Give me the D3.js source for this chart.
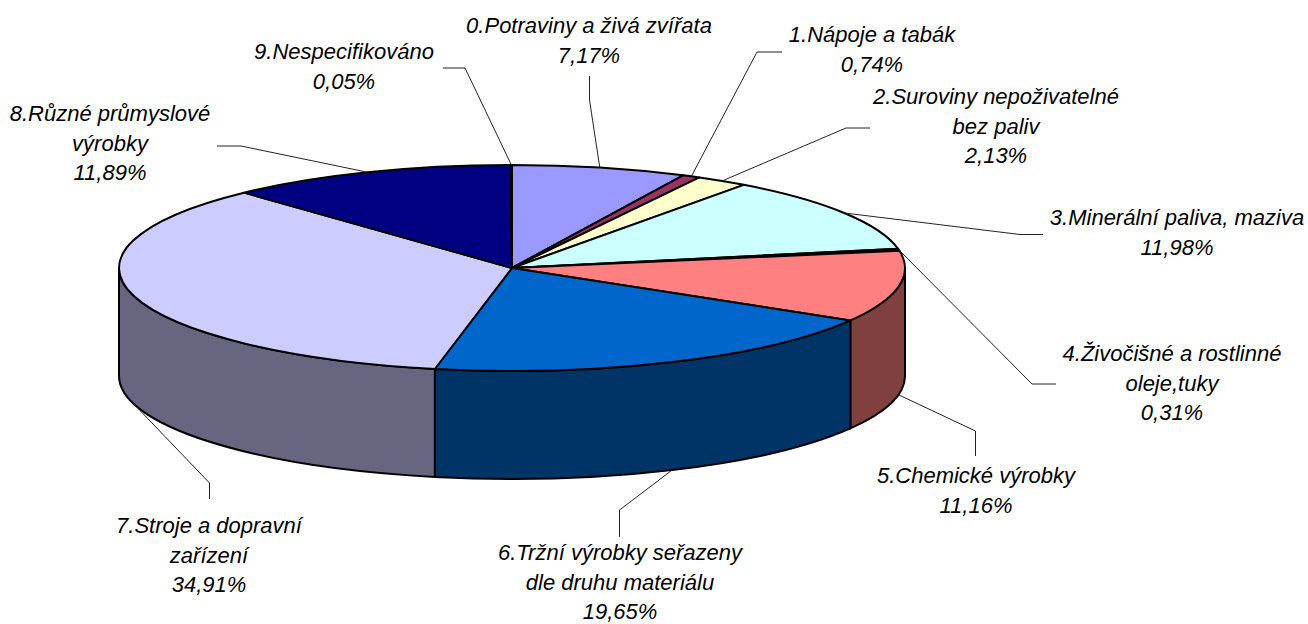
<!DOCTYPE html>
<html>
<head>
<meta charset="utf-8">
<script src="https://cdn.jsdelivr.net/npm/d3@7"></script>
<style>
    html, body { margin: 0; padding: 0; background: #fff; }
    svg { display: block; }
    .label { font-family: "Liberation Sans", Arial, sans-serif; font-style: italic; font-size: 22px; fill: #000; }
    .leader { fill: none; stroke: #222; stroke-width: 1; }
    .edge { stroke: #000; stroke-width: 2; stroke-linejoin: round; }
</style>
</head>
<body>
<div id="chart"></div>
<script>
const categoryLines = [
    ["0.Potraviny a živá zvířata"],
    ["1.Nápoje a tabák"],
    ["2.Suroviny nepoživatelné", "bez paliv"],
    ["3.Minerální paliva, maziva"],
    ["4.Živočišné a rostlinné", "oleje,tuky"],
    ["5.Chemické výrobky"],
    ["6.Tržní výrobky seřazeny", "dle druhu materiálu"],
    ["7.Stroje a dopravní", "zařízení"],
    ["8.Různé průmyslové", "výrobky"],
    ["9.Nespecifikováno"]
];
const shares = [7.17, 0.74, 2.13, 11.98, 0.31, 11.16, 19.65, 34.91, 11.89, 0.05];
const topColors = ["#9999ff", "#993366", "#ffffcc", "#ccffff", "#660066", "#ff8080", "#0066cc", "#ccccff", "#000080", "#ff00ff"];
const sideColors = ["#4c4c80", "#4c1933", "#808066", "#668080", "#330033", "#804040", "#003366", "#666680", "#000040", "#800080"];

// label placement: centre x, first baseline, elbow points of the leader line
const labelLayout = [
    {x: 589, y: 33, leader: [[589.5, 76], [589.5, 100]]},
    {x: 872, y: 42, leader: [[782, 52], [757, 52]]},
    {x: 996, y: 104, leader: [[870, 128], [846, 128]]},
    {x: 1177, y: 225, leader: [[1043, 234.5], [1020, 234.5]]},
    {x: 1172, y: 361, leader: [[1056, 384], [1032, 384]]},
    {x: 976, y: 483, leader: [[975.5, 456], [975.5, 431]]},
    {x: 620, y: 560, leader: [[619.5, 537], [619.5, 510]]},
    {x: 209, y: 533, leader: [[209.5, 499], [209.5, 483]]},
    {x: 110, y: 121, leader: [[217, 146], [241, 146]]},
    {x: 344, y: 59, leader: [[443, 68], [465, 68]]}
];

const width = 1308, height = 624;
const cx = 512, cy = 268, rx = 393, ry = 103, depth = 108;
const lineGap = 29.5;

const percent = d3.formatLocale({decimal: ",", thousands: " ", grouping: [3]}).format(".2f");

const svg = d3.select("#chart").append("svg")
    .attr("width", width)
    .attr("height", height);

const slices = d3.pie().sort(null).value(d => d)(shares);

// point on the rim, angle clockwise from the top of the pie
const rim = (a, drop = 0) => [cx + rx * Math.sin(a), cy - ry * Math.cos(a) + drop];

// front wall of the slice, only the part turned towards the viewer
function wallPath(d) {
    const a0 = Math.max(d.startAngle, Math.PI / 2);
    const a1 = Math.min(d.endAngle, Math.PI * 1.5);
    if (a1 <= a0) return null;
    const [x0, y0] = rim(a0);
    const [x1, y1] = rim(a1);
    return `M${x0},${y0}A${rx},${ry} 0 0 1 ${x1},${y1}` +
        `L${x1},${y1 + depth}A${rx},${ry} 0 0 0 ${x0},${y0 + depth}Z`;
}

svg.append("g").selectAll("path")
    .data(slices.filter(d => wallPath(d)))
    .join("path")
        .attr("class", "edge")
        .attr("d", wallPath)
        .attr("fill", d => sideColors[d.index]);

const arc = d3.arc().innerRadius(0).outerRadius(rx);

svg.append("g")
    .attr("transform", `translate(${cx},${cy}) scale(1,${ry / rx})`)
    .selectAll("path")
    .data(slices)
    .join("path")
        .attr("class", "edge")
        .attr("vector-effect", "non-scaling-stroke")
        .attr("d", arc)
        .attr("fill", d => topColors[d.index]);

// leader lines end at the middle of the slice, on the bottom rim for the front ones
function leaderEnd(d) {
    const mid = (d.startAngle + d.endAngle) / 2;
    const front = mid > Math.PI / 2 && mid < Math.PI * 1.5;
    return rim(mid, front ? depth : 0);
}

const line = d3.line();

svg.append("g").selectAll("path")
    .data(slices)
    .join("path")
        .attr("class", "leader")
        .attr("d", d => line([...labelLayout[d.index].leader, leaderEnd(d)]));

const labels = svg.append("g").selectAll("text")
    .data(slices)
    .join("text")
        .attr("class", "label")
        .attr("text-anchor", "middle");

labels.selectAll("tspan")
    .data(d => [...categoryLines[d.index], percent(d.value) + "%"].map((t, i) => ({t, i, d})))
    .join("tspan")
        .attr("x", o => labelLayout[o.d.index].x)
        .attr("y", o => labelLayout[o.d.index].y + o.i * lineGap)
        .text(o => o.t);
</script>
</body>
</html>
